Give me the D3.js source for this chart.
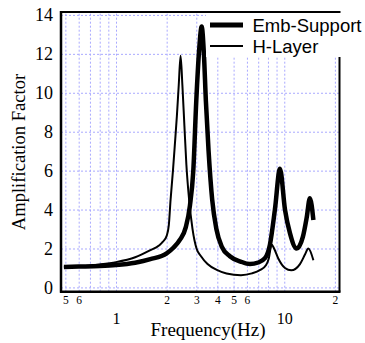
<!DOCTYPE html>
<html>
<head>
<meta charset="utf-8">
<script src="https://cdn.jsdelivr.net/npm/d3@7"></script>
<style>
  body { margin: 0; background: #fff; }
  .grid line { stroke: #a9a9ff; stroke-width: 1; stroke-dasharray: 2,2; }
  .grid path { display: none; }
  .lbl path, .lbl line { display: none; }
</style>
</head>
<body>
<svg id="chart" width="365" height="343"></svg>
<script>
// Emb-Support (thick)
var embFreq = [0.49, 0.6, 0.8, 1.0, 1.3, 1.6, 2.0, 2.2, 2.4, 2.6, 2.75, 2.88, 3.0, 3.12, 3.23, 3.33, 3.42, 3.55, 3.73, 3.95, 4.25, 4.75, 5.5, 6.25, 7.0, 7.68, 8.22, 8.8, 9.43, 10.1, 10.8, 11.85, 12.9, 13.6, 14.2, 14.9];
var embAmp  = [1.05, 1.07, 1.1, 1.15, 1.27, 1.45, 1.75, 2.05, 2.45, 3.1, 4.2, 6.0, 9.6, 12.2, 13.4, 12.0, 9.6, 7.0, 4.5, 3.0, 2.1, 1.6, 1.33, 1.2, 1.28, 1.5, 2.2, 4.0, 6.1, 4.0, 2.8, 2.0, 2.6, 3.6, 4.58, 3.46];
// H-Layer (thin)
var hlFreq = [0.49, 0.6, 0.8, 1.0, 1.3, 1.59, 1.8, 1.9, 2.0, 2.06, 2.11, 2.18, 2.24, 2.3, 2.36, 2.42, 2.48, 2.55, 2.62, 2.72, 2.85, 3.01, 3.2, 3.5, 3.97, 4.54, 5.53, 6.42, 7.2, 7.8, 8.1, 8.4, 8.7, 9.2, 10.1, 11.0, 12.4, 13.3, 13.9, 14.9];
var hlAmp  = [1.05, 1.08, 1.18, 1.3, 1.55, 1.9, 2.15, 2.35, 2.65, 3.2, 4.5, 6.0, 7.4, 8.8, 10.4, 11.9, 10.4, 8.3, 6.3, 4.5, 3.0, 2.0, 1.6, 1.2, 0.9, 0.72, 0.63, 0.72, 0.9, 1.15, 1.5, 2.2, 2.0, 1.5, 1.0, 0.88, 1.2, 1.7, 2.0, 1.4];

var gridFreq = [0.5, 0.6, 0.7, 0.8, 0.9, 1, 2, 3, 4, 5, 6, 7, 8, 9, 10, 20];
var minorLabels = [0.5, 0.6, 2, 3, 4, 5, 6, 20];
var majorLabels = [1, 10];
var yTicks = [0, 2, 4, 6, 8, 10, 12, 14];

var svg = d3.select("#chart");
var pLeft = 61, pRight = 339.5, pTop = 12, pBottom = 291.7;

var x = d3.scaleLog().domain([0.471, 21.3]).range([pLeft, pRight]);
var y = d3.scaleLinear().domain([-0.22, 14.15]).range([pBottom, pTop]);

// gridlines
svg.append("g")
    .attr("class", "grid")
    .attr("transform", "translate(0," + pBottom + ")")
    .call(d3.axisBottom(x).tickValues(gridFreq).tickSize(-(pBottom - pTop)).tickFormat(""));

svg.append("g")
    .attr("class", "grid")
    .attr("transform", "translate(" + pLeft + ",0)")
    .call(d3.axisLeft(y).tickValues(yTicks).tickSize(-(pRight - pLeft)).tickFormat(""));

// tick labels
svg.append("g")
    .attr("class", "lbl")
    .attr("transform", "translate(0," + pBottom + ")")
    .call(d3.axisBottom(x).tickValues(minorLabels).tickSize(0).tickPadding(4)
        .tickFormat(function (d) { return d < 1 ? Math.round(d * 10) : (d >= 20 ? 2 : d); }))
    .selectAll("text")
    .attr("font-family", "Liberation Serif, Times New Roman, serif")
    .attr("font-size", 11.5)
    .attr("fill", "#000");

svg.append("g")
    .attr("class", "lbl")
    .attr("transform", "translate(0," + pBottom + ")")
    .call(d3.axisBottom(x).tickValues(majorLabels).tickSize(0).tickPadding(21).tickFormat(d3.format("d")))
    .selectAll("text")
    .attr("font-family", "Liberation Serif, Times New Roman, serif")
    .attr("font-size", 16)
    .attr("fill", "#000");

svg.append("g")
    .attr("class", "lbl")
    .attr("transform", "translate(" + pLeft + ",0)")
    .call(d3.axisLeft(y).tickValues(yTicks).tickSize(0).tickPadding(8))
    .selectAll("text")
    .attr("font-family", "Liberation Serif, Times New Roman, serif")
    .attr("font-size", 18)
    .attr("fill", "#000");

// curves
var line = d3.line()
    .x(function (d) { return x(d[0]); })
    .y(function (d) { return y(d[1]); })
    .curve(d3.curveMonotoneX);

var embData = d3.zip(embFreq, embAmp);
var hlData = d3.zip(hlFreq, hlAmp);

svg.append("path")
    .datum(hlData)
    .attr("d", line)
    .attr("fill", "none")
    .attr("stroke", "#000")
    .attr("stroke-width", 2);

svg.append("path")
    .datum(embData)
    .attr("d", line)
    .attr("fill", "none")
    .attr("stroke", "#000")
    .attr("stroke-width", 4.5);

// legend
svg.append("rect")
    .attr("x", 206).attr("y", pTop + 1)
    .attr("width", 365 - 206).attr("height", 57 - pTop - 1)
    .attr("fill", "#fff");

// frame
svg.append("line").attr("x1", pLeft).attr("x2", pLeft).attr("y1", pTop - 1).attr("y2", pBottom + 1)
    .attr("stroke", "#000").attr("stroke-width", 2.5);
svg.append("line").attr("x1", pLeft - 1).attr("x2", pRight + 1).attr("y1", pBottom).attr("y2", pBottom)
    .attr("stroke", "#000").attr("stroke-width", 2.5);
svg.append("line").attr("x1", pLeft).attr("x2", pRight + 1).attr("y1", pTop).attr("y2", pTop)
    .attr("stroke", "#000").attr("stroke-width", 2);
svg.append("line").attr("x1", pRight).attr("x2", pRight).attr("y1", 57).attr("y2", pBottom)
    .attr("stroke", "#000").attr("stroke-width", 2);

var legend = [["Emb-Support", 5], ["H-Layer", 2]];
legend.forEach(function (l, i) {
    var ly = 25 + i * 21;
    svg.append("line")
        .attr("x1", 210).attr("x2", 243).attr("y1", ly).attr("y2", ly)
        .attr("stroke", "#000").attr("stroke-width", l[1]);
    svg.append("text")
        .attr("x", 252.5).attr("y", ly + 6.5)
        .attr("font-family", "Liberation Sans, Arial, sans-serif")
        .attr("font-size", 18.5)
        .text(l[0]);
});

// axis titles
svg.append("text")
    .attr("x", 208).attr("y", 336)
    .attr("text-anchor", "middle")
    .attr("font-family", "Liberation Serif, Times New Roman, serif")
    .attr("font-size", 19)
    .text("Frequency(Hz)");

svg.append("text")
    .attr("transform", "translate(25,152) rotate(-90)")
    .attr("text-anchor", "middle")
    .attr("font-family", "Liberation Serif, Times New Roman, serif")
    .attr("font-size", 18.6)
    .text("Amplification Factor");
</script>
</body>
</html>
